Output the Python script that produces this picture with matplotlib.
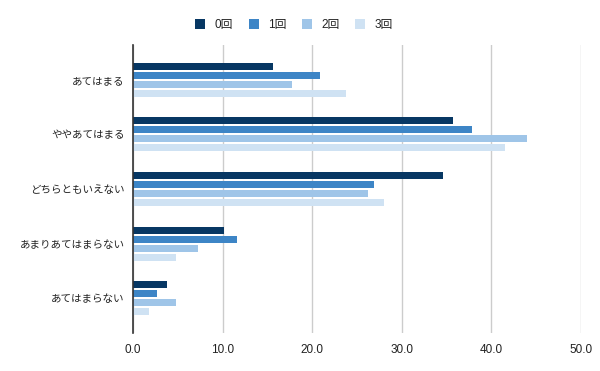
import matplotlib
matplotlib.use("Agg")
import matplotlib.pyplot as plt
import numpy as np

plt.rcParams['font.family'] = ['Liberation Sans', 'Noto Sans CJK JP', 'DejaVu Sans']

categories = ['あてはまる', 'ややあてはまる', 'どちらともいえない', 'あまりあてはまらない', 'あてはまらない']
series_names = ['0回', '1回', '2回', '3回']
values_0 = [15.6, 35.7, 34.6, 10.2, 3.8]
values_1 = [20.9, 37.8, 26.9, 11.6, 2.7]
values_2 = [17.7, 44.0, 26.2, 7.3, 4.8]
values_3 = [23.8, 41.5, 28.0, 4.8, 1.8]
colors = ['#073763', '#3d85c6', '#9fc5e8', '#cfe2f3']
xticks = [0, 10, 20, 30, 40, 50]

fig = plt.figure(figsize=(6, 3.71), dpi=100)
ax = fig.add_axes([133 / 600, 1 - 333 / 371, (581 - 133) / 600, (333 - 45) / 371])

y = np.arange(len(categories))
pitch = 0.165
height = 0.128
all_vals = [values_0, values_1, values_2, values_3]
for i, (vals, name, c) in enumerate(zip(all_vals, series_names, colors)):
    ax.barh(y + (i - 1.5) * pitch, vals, height=height, color=c, label=name, zorder=3)

ax.set_xlim(0, 50)
ax.set_ylim(4.64, -0.64)
ax.set_xticks(xticks)
ax.set_xticklabels([f'{v:.1f}' for v in xticks], fontsize=8.5, color='#222222')
ax.set_yticks(y)
ax.set_yticklabels(categories, fontsize=7.6, color='#222222', family=['Noto Sans CJK JP'])
ax.tick_params(axis='y', length=0, pad=6)
ax.tick_params(axis='x', length=0, pad=8)
ax.grid(axis='x', color='#cccccc', linewidth=1, zorder=0)
for s in ['top', 'right', 'bottom']:
    ax.spines[s].set_visible(False)
ax.spines['left'].set_color('#333333')
ax.spines['left'].set_linewidth(1.2)
ax.spines['left'].set_zorder(4)

leg = fig.legend(loc='center', bbox_to_anchor=(0.49, 1 - 25 / 371), ncol=4, frameon=False,
                 handlelength=0.85, handleheight=0.85, handletextpad=0.8,
                 columnspacing=1.3, prop={'family': ['Liberation Sans', 'Noto Sans CJK JP'], 'size': 8.5})
for t in leg.get_texts():
    t.set_color('#222222')

fig.savefig('out.png', dpi=100, facecolor='white')
